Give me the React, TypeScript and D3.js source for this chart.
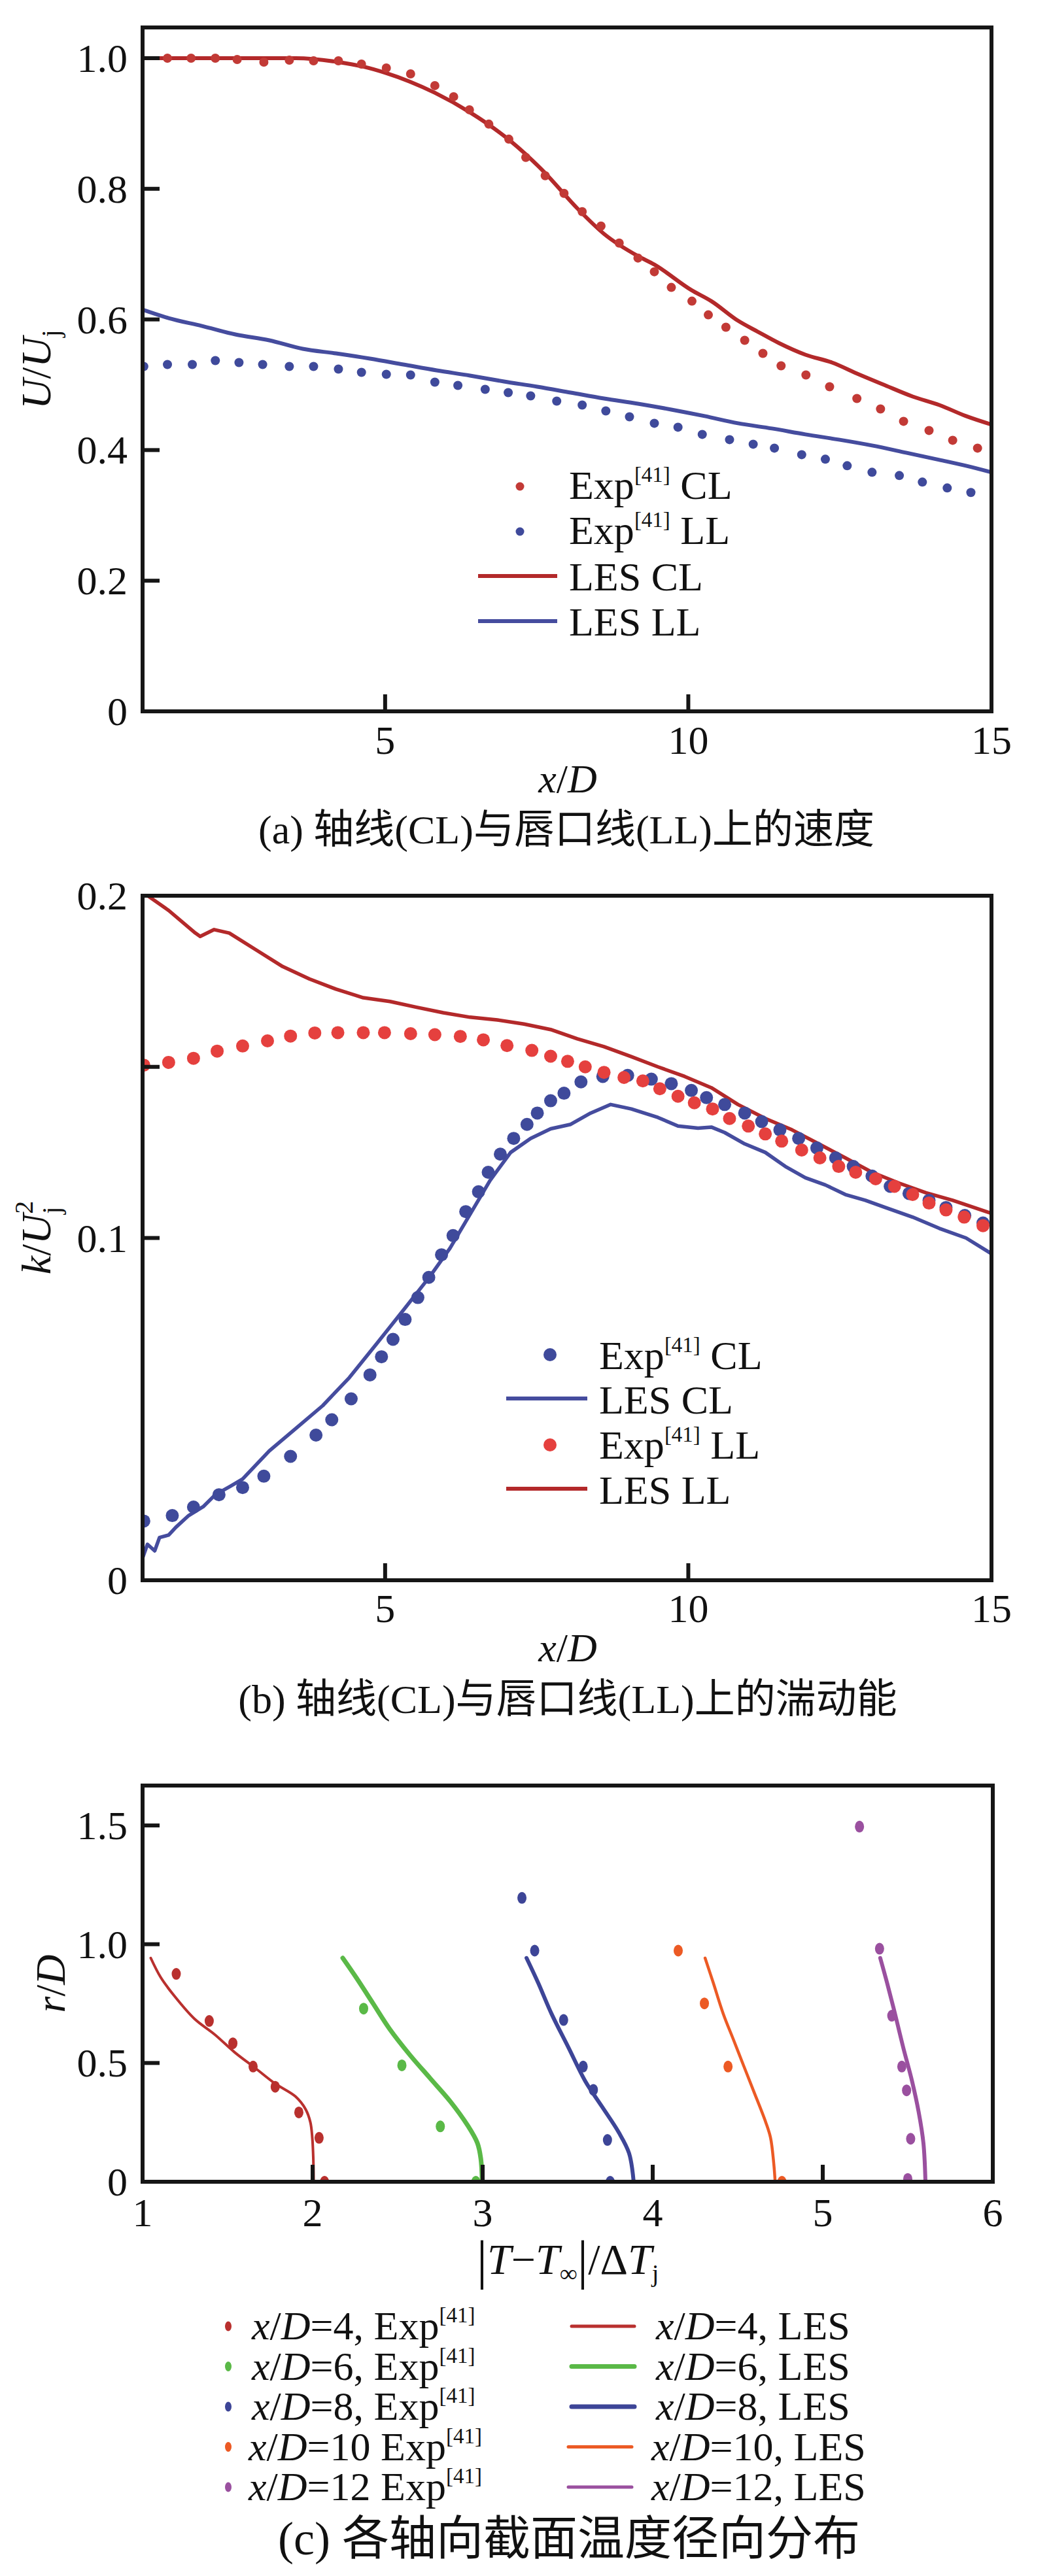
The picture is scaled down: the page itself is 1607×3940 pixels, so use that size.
import * as d3 from 'd3'

// ---------- panel (a): mean velocity along CL and LL ----------
const aExpCLx = [1.41, 1.8, 2.2, 2.56, 3.0, 3.42, 3.82, 4.23, 4.61, 5.02, 5.42, 5.82, 6.13, 6.39, 6.71, 7.04, 7.32, 7.64, 7.95, 8.25, 8.56, 8.86, 9.17, 9.44, 9.72, 10.06, 10.33, 10.62, 10.93, 11.23, 11.53, 11.94, 12.33, 12.78, 13.17, 13.55, 13.97, 14.36, 14.77]
const aExpCLy = [1.0, 1.0, 1.0, 0.998, 0.994, 0.997, 0.996, 0.996, 0.991, 0.985, 0.976, 0.958, 0.941, 0.921, 0.899, 0.876, 0.848, 0.82, 0.793, 0.765, 0.743, 0.717, 0.694, 0.673, 0.649, 0.628, 0.607, 0.588, 0.568, 0.548, 0.529, 0.515, 0.497, 0.479, 0.463, 0.444, 0.43, 0.415, 0.403]
const aExpLLx = [1.02, 1.41, 1.82, 2.2, 2.59, 2.98, 3.42, 3.82, 4.23, 4.61, 5.02, 5.42, 5.82, 6.2, 6.65, 7.03, 7.4, 7.83, 8.25, 8.64, 9.03, 9.44, 9.83, 10.23, 10.68, 11.07, 11.42, 11.87, 12.26, 12.62, 13.03, 13.48, 13.86, 14.27, 14.66]
const aExpLLy = [0.528, 0.531, 0.531, 0.537, 0.534, 0.531, 0.528, 0.528, 0.524, 0.519, 0.516, 0.515, 0.504, 0.499, 0.493, 0.488, 0.483, 0.475, 0.469, 0.46, 0.451, 0.441, 0.435, 0.424, 0.416, 0.409, 0.403, 0.393, 0.386, 0.376, 0.366, 0.361, 0.351, 0.342, 0.335]
const aLesCLx = [1.0, 2.0, 3.0, 3.53, 4.23, 4.64, 5.02, 5.41, 5.82, 6.4, 7.07, 7.62, 8.17, 8.61, 9.17, 9.44, 10.05, 10.38, 10.82, 11.15, 11.49, 11.93, 12.37, 12.81, 13.25, 13.7, 14.14, 14.58, 15.0]
const aLesCLy = [1.0, 1.0, 1.0, 1.0, 0.994, 0.987, 0.977, 0.964, 0.947, 0.917, 0.873, 0.826, 0.77, 0.731, 0.697, 0.684, 0.645, 0.628, 0.598, 0.581, 0.564, 0.546, 0.534, 0.516, 0.499, 0.482, 0.469, 0.452, 0.439]
const aLesLLx = [1.0, 1.43, 1.98, 2.53, 3.09, 3.64, 4.19, 4.75, 5.3, 5.85, 6.4, 6.96, 7.51, 8.06, 8.61, 9.17, 9.72, 10.27, 10.82, 11.38, 11.93, 12.48, 13.03, 13.59, 14.14, 14.58, 15.0]
const aLesLLy = [0.615, 0.602, 0.59, 0.577, 0.568, 0.555, 0.548, 0.54, 0.531, 0.522, 0.514, 0.505, 0.497, 0.488, 0.479, 0.471, 0.462, 0.452, 0.441, 0.433, 0.424, 0.416, 0.407, 0.396, 0.385, 0.376, 0.366]
const aYTicks = [0, 0.2, 0.4, 0.6, 0.8, 1.0]
const aYLabels = ['0', '0.2', '0.4', '0.6', '0.8', '1.0']

// ---------- panel (b): turbulent kinetic energy ----------
const bExpLLx = [1.02, 1.43, 1.84, 2.23, 2.65, 3.06, 3.44, 3.84, 4.22, 4.64, 4.99, 5.42, 5.82, 6.24, 6.62, 7.01, 7.42, 7.73, 8.01, 8.3, 8.61, 8.94, 9.25, 9.53, 9.83, 10.1, 10.4, 10.68, 10.99, 11.27, 11.54, 11.87, 12.17, 12.48, 12.76, 13.09, 13.4, 13.7, 13.97, 14.25, 14.55, 14.86]
const bExpLLy = [0.1505, 0.1513, 0.1525, 0.1546, 0.1561, 0.1576, 0.159, 0.1599, 0.16, 0.16, 0.16, 0.1597, 0.1594, 0.1589, 0.1579, 0.1562, 0.1548, 0.1531, 0.1516, 0.15, 0.1484, 0.1469, 0.1459, 0.1436, 0.1414, 0.1395, 0.1377, 0.1349, 0.1327, 0.1304, 0.1283, 0.1257, 0.1234, 0.1209, 0.1192, 0.1173, 0.1151, 0.1127, 0.1102, 0.1082, 0.1061, 0.1036]
const bExpCLx = [1.02, 1.49, 1.84, 2.26, 2.65, 3.0, 3.44, 3.86, 4.12, 4.44, 4.75, 4.94, 5.13, 5.33, 5.54, 5.72, 5.93, 6.12, 6.33, 6.54, 6.7, 6.9, 7.12, 7.34, 7.51, 7.73, 7.95, 8.23, 8.59, 9.0, 9.39, 9.72, 10.05, 10.3, 10.6, 10.93, 11.21, 11.51, 11.82, 12.12, 12.43, 12.72, 13.03, 13.33, 13.64, 13.97, 14.25, 14.56, 14.86]
const bExpCLy = [0.0173, 0.0189, 0.0214, 0.025, 0.0271, 0.0304, 0.0362, 0.0424, 0.0469, 0.053, 0.06, 0.0653, 0.0704, 0.0762, 0.0826, 0.0885, 0.0951, 0.1007, 0.1077, 0.1135, 0.1192, 0.1245, 0.1291, 0.1332, 0.1365, 0.1401, 0.1423, 0.1456, 0.1472, 0.1475, 0.1464, 0.1451, 0.1431, 0.141, 0.139, 0.1365, 0.134, 0.1316, 0.1291, 0.1263, 0.1234, 0.1209, 0.1181, 0.1151, 0.113, 0.111, 0.1089, 0.1066, 0.1044]
const bLesLLx = [1.0, 1.1, 1.43, 1.87, 1.95, 2.18, 2.43, 2.87, 3.31, 3.75, 4.19, 4.64, 5.08, 5.52, 5.96, 6.4, 6.85, 7.29, 7.73, 8.17, 8.61, 9.06, 9.5, 9.94, 10.38, 10.82, 11.27, 11.71, 12.15, 12.59, 13.03, 13.48, 13.92, 14.36, 15.0]
const bLesLLy = [0.2012, 0.1998, 0.1957, 0.1891, 0.1881, 0.1901, 0.1891, 0.1842, 0.1793, 0.1757, 0.1727, 0.1702, 0.1691, 0.1674, 0.1658, 0.1645, 0.1637, 0.1625, 0.1609, 0.1582, 0.1559, 0.153, 0.15, 0.1472, 0.1439, 0.139, 0.1349, 0.1316, 0.1275, 0.1234, 0.1192, 0.116, 0.1132, 0.111, 0.1072]
const bLesCLx = [1.0, 1.08, 1.2, 1.28, 1.43, 1.55, 1.76, 2.0, 2.2, 2.45, 2.65, 3.09, 3.53, 3.97, 4.41, 4.86, 5.3, 5.74, 6.07, 6.4, 6.73, 7.07, 7.4, 7.73, 8.06, 8.39, 8.72, 9.06, 9.5, 9.83, 10.16, 10.38, 10.6, 10.93, 11.27, 11.6, 11.93, 12.26, 12.59, 12.92, 13.25, 13.7, 14.14, 14.58, 15.0]
const bLesCLy = [0.0065, 0.0105, 0.0086, 0.0125, 0.0132, 0.0155, 0.0189, 0.0215, 0.025, 0.0275, 0.0296, 0.0378, 0.0444, 0.051, 0.0592, 0.0691, 0.0789, 0.0888, 0.097, 0.1069, 0.1168, 0.125, 0.1291, 0.1319, 0.1332, 0.1365, 0.139, 0.1377, 0.1352, 0.1327, 0.1321, 0.1324, 0.1308, 0.1275, 0.125, 0.1209, 0.1176, 0.1155, 0.1127, 0.111, 0.1089, 0.1061, 0.1028, 0.1, 0.0954]
const bYTicks = [0, 0.1, 0.2]
const bYLabels = ['0', '0.1', '0.2']
const bYMinor = [0.15]

const abXTicks = [5, 10, 15]
const abXLabels = ['5', '10', '15']

// ---------- panel (c): radial temperature profiles ----------
const cStations = ['4', '6', '8', '10', '12']
const cColors = ['#b9302e', '#5ab947', '#3d4597', '#ec5a24', '#9a509f']
const cLineWidths = [4, 7, 6, 4.5, 6]
const cExpT = [
  [1.198, 1.392, 1.531, 1.65, 1.78, 1.919, 2.038, 2.07],
  [2.3, 2.525, 2.751, 2.96],
  [3.231, 3.306, 3.476, 3.591, 3.651, 3.734, 3.75],
  [4.15, 4.304, 4.443, 4.76],
  [5.216, 5.334, 5.406, 5.465, 5.493, 5.517, 5.5],
]
const cExpR = [
  [0.875, 0.677, 0.583, 0.485, 0.4, 0.292, 0.185, 0.0],
  [0.729, 0.49, 0.233, 0.0],
  [1.195, 0.973, 0.681, 0.485, 0.387, 0.176, 0.0],
  [0.973, 0.751, 0.485, 0.0],
  [1.495, 0.981, 0.699, 0.485, 0.385, 0.181, 0.012],
]
const cLesT = [
  [1.048, 1.107, 1.186, 1.305, 1.424, 1.543, 1.662, 1.78, 1.899, 1.959, 1.987, 1.998, 2.004, 2.006],
  [2.177, 2.256, 2.355, 2.454, 2.573, 2.692, 2.811, 2.91, 2.969, 2.989, 2.997],
  [3.258, 3.326, 3.405, 3.504, 3.603, 3.702, 3.801, 3.861, 3.888],
  [4.308, 4.356, 4.415, 4.475, 4.534, 4.594, 4.665, 4.693, 4.712, 4.72],
  [5.338, 5.378, 5.425, 5.473, 5.525, 5.564, 5.592, 5.604],
]
const cLesR = [
  [0.942, 0.86, 0.783, 0.686, 0.62, 0.544, 0.479, 0.413, 0.359, 0.305, 0.25, 0.185, 0.098, 0.0],
  [0.942, 0.86, 0.751, 0.642, 0.533, 0.435, 0.337, 0.239, 0.163, 0.098, 0.0],
  [0.942, 0.838, 0.707, 0.566, 0.424, 0.316, 0.207, 0.12, 0.0],
  [0.942, 0.838, 0.707, 0.598, 0.49, 0.381, 0.25, 0.185, 0.076, 0.0],
  [0.942, 0.838, 0.707, 0.566, 0.424, 0.294, 0.163, 0.0],
]
const cXTicks = [1, 2, 3, 4, 5, 6]
const cYTicks = [0, 0.5, 1.0, 1.5]
const cYLabels = ['0', '0.5', '1.0', '1.5']

// colours
const redDot = '#c23a36'
const redLine = '#b3292a'
const blueDot = '#3f4a9b'
const blueLine = '#454c9e'
const redDotB = '#e5403e'

const SERIF = "'Liberation Serif', 'Times New Roman', serif"
const MIXED = "'Liberation Serif', 'Noto Sans CJK SC', serif"
const FS = 62
const SUP = 33

const zip = (xs: number[], ys: number[]) => xs.map((x, i) => [x, ys[i]] as [number, number])

function T({ x, y, anchor = 'start', size = FS, family = SERIF, children }: any) {
  return (
    <text x={x} y={y} textAnchor={anchor} fontSize={size} fontFamily={family} fill="#111">
      {children}
    </text>
  )
}

function Clip({ x, y, id }: any) {
  const [x0, x1] = x.range()
  const [y0, y1] = y.range()
  return (
    <clipPath id={id}>
      <rect x={x0} y={y1} width={x1 - x0} height={y0 - y1} />
    </clipPath>
  )
}

function Box({ x, y, xTicks, yTicks }: any) {
  const [x0, x1] = x.range()
  const [y0, y1] = y.range()
  const tick = 26
  return (
    <g stroke="#161616" strokeWidth={6} fill="none">
      {xTicks.map((t: number) => (
        <line key={'x' + t} x1={x(t)} x2={x(t)} y1={y0} y2={y0 - tick} />
      ))}
      {yTicks.map((t: number) => (
        <line key={'y' + t} x1={x0} x2={x0 + tick} y1={y(t)} y2={y(t)} />
      ))}
      <rect x={x0} y={y1} width={x1 - x0} height={y0 - y1} />
    </g>
  )
}

const Exp41 = ({ tail }: { tail: string }) => (
  <>
    Exp<tspan fontSize={SUP} dy={-26}>[41]</tspan>
    <tspan dy={26}>{tail}</tspan>
  </>
)

function PanelA() {
  const x = d3.scaleLinear().domain([1, 15]).range([218, 1516])
  const y = d3.scaleLinear().domain([0, 1.047]).range([1088, 42])
  const line = d3
    .line<[number, number]>()
    .x((d) => x(d[0]))
    .y((d) => y(d[1]))
    .curve(d3.curveMonotoneX)
  return (
    <g>
      <Clip x={x} y={y} id="clipA" />
      <g clipPath="url(#clipA)">
        <path d={line(zip(aLesLLx, aLesLLy)) || ''} fill="none" stroke={blueLine} strokeWidth={6} />
        <path d={line(zip(aLesCLx, aLesCLy)) || ''} fill="none" stroke={redLine} strokeWidth={6} />
        {zip(aExpLLx, aExpLLy).map((d, i) => (
          <circle key={'l' + i} cx={x(d[0])} cy={y(d[1])} r={7} fill={blueDot} />
        ))}
        {zip(aExpCLx, aExpCLy).map((d, i) => (
          <circle key={'c' + i} cx={x(d[0])} cy={y(d[1])} r={7} fill={redDot} />
        ))}
      </g>
      <Box x={x} y={y} xTicks={abXTicks.slice(0, 2)} yTicks={aYTicks.slice(1)} />
      {aYTicks.map((t, i) => (
        <T key={t} x={195} y={y(t) + 21} anchor="end">{aYLabels[i]}</T>
      ))}
      {abXTicks.map((t, i) => (
        <T key={t} x={x(t)} y={1153} anchor="middle">{abXLabels[i]}</T>
      ))}
      <T x={868} y={1212} anchor="middle"><tspan fontStyle="italic">x</tspan>/<tspan fontStyle="italic">D</tspan></T>
      <T x={866} y={1290} anchor="middle" family={MIXED} size={62}>(a) 轴线(CL)与唇口线(LL)上的速度</T>
      <g transform="translate(77,565) rotate(-90)">
        <text textAnchor="middle" fontSize={64} fontFamily={SERIF} fill="#111">
          <tspan fontStyle="italic">U</tspan>/<tspan fontStyle="italic">U</tspan>
          <tspan fontSize={40} dy={14}>j</tspan>
        </text>
      </g>
      {/* legend */}
      <circle cx={795} cy={744} r={6.5} fill={redDot} />
      <T x={870} y={763}><Exp41 tail=" CL" /></T>
      <circle cx={795} cy={813} r={6.5} fill={blueDot} />
      <T x={870} y={832}><Exp41 tail=" LL" /></T>
      <line x1={731} x2={852} y1={881} y2={881} stroke={redLine} strokeWidth={6} />
      <T x={870} y={903}>LES CL</T>
      <line x1={731} x2={852} y1={950} y2={950} stroke={blueLine} strokeWidth={6} />
      <T x={870} y={972}>LES LL</T>
    </g>
  )
}

function PanelB() {
  const x = d3.scaleLinear().domain([1, 15]).range([218, 1516])
  const y = d3.scaleLinear().domain([0, 0.2]).range([2417, 1370])
  const line = d3
    .line<[number, number]>()
    .x((d) => x(d[0]))
    .y((d) => y(d[1]))
  return (
    <g>
      <Clip x={x} y={y} id="clipB" />
      <g clipPath="url(#clipB)">
        <path d={line(zip(bLesLLx, bLesLLy)) || ''} fill="none" stroke={redLine} strokeWidth={5.5} strokeLinejoin="round" />
        <path d={line(zip(bLesCLx, bLesCLy)) || ''} fill="none" stroke={blueLine} strokeWidth={5.5} strokeLinejoin="round" />
        {zip(bExpCLx, bExpCLy).map((d, i) => (
          <circle key={'c' + i} cx={x(d[0])} cy={y(d[1])} r={10} fill={blueDot} />
        ))}
        {zip(bExpLLx, bExpLLy).map((d, i) => (
          <circle key={'l' + i} cx={x(d[0])} cy={y(d[1])} r={10} fill={redDotB} />
        ))}
      </g>
      <Box x={x} y={y} xTicks={abXTicks.slice(0, 2)} yTicks={[bYTicks[1], ...bYMinor]} />
      {bYTicks.map((t, i) => (
        <T key={t} x={195} y={y(t) + 21} anchor="end">{bYLabels[i]}</T>
      ))}
      {abXTicks.map((t, i) => (
        <T key={t} x={x(t)} y={2481} anchor="middle">{abXLabels[i]}</T>
      ))}
      <T x={868} y={2541} anchor="middle"><tspan fontStyle="italic">x</tspan>/<tspan fontStyle="italic">D</tspan></T>
      <T x={868} y={2620} anchor="middle" family={MIXED} size={62}>(b) 轴线(CL)与唇口线(LL)上的湍动能</T>
      <g transform="translate(77,1893) rotate(-90)">
        <text textAnchor="middle" fontSize={64} fontFamily={SERIF} fill="#111">
          <tspan fontStyle="italic">k</tspan>/<tspan fontStyle="italic">U</tspan>
          <tspan fontSize={40} dy={-27}>2</tspan>
          <tspan fontSize={40} dx={-20} dy={42}>j</tspan>
        </text>
      </g>
      {/* legend */}
      <circle cx={841} cy={2072} r={10} fill={blueDot} />
      <T x={916} y={2094}><Exp41 tail=" CL" /></T>
      <line x1={774} x2={898} y1={2139} y2={2139} stroke={blueLine} strokeWidth={6} />
      <T x={916} y={2162}>LES CL</T>
      <circle cx={841} cy={2210} r={10} fill={redDotB} />
      <T x={916} y={2231}><Exp41 tail=" LL" /></T>
      <line x1={774} x2={898} y1={2277} y2={2277} stroke={redLine} strokeWidth={6} />
      <T x={916} y={2300}>LES LL</T>
    </g>
  )
}

function PanelC() {
  const x = d3.scaleLinear().domain([1, 6]).range([218, 1518])
  const y = d3.scaleLinear().domain([0, 1.668]).range([3337, 2731])
  const line = d3
    .line<[number, number]>()
    .x((d) => x(d[0]))
    .y((d) => y(d[1]))
    .curve(d3.curveCatmullRom.alpha(0.5))
  const rowY = (i: number) => 3578 + i * 61.5
  return (
    <g>
      <Clip x={x} y={y} id="clipC" />
      <g clipPath="url(#clipC)">
        {cStations.map((s, k) =>
          zip(cExpT[k], cExpR[k]).map((d, i) => (
            <ellipse key={s + 'e' + i} cx={x(d[0])} cy={y(d[1])} rx={7} ry={9} fill={cColors[k]} />
          ))
        )}
        {cStations.map((s, k) => (
          <path
            key={s + 'l'}
            d={line(zip(cLesT[k], cLesR[k])) || ''}
            fill="none"
            stroke={cColors[k]}
            strokeWidth={cLineWidths[k]}
            strokeLinecap="round"
          />
        ))}
      </g>
      <Box x={x} y={y} xTicks={cXTicks.slice(1, 5)} yTicks={cYTicks.slice(1)} />
      {cYTicks.map((t, i) => (
        <T key={t} x={195} y={y(t) + 21} anchor="end">{cYLabels[i]}</T>
      ))}
      {cXTicks.map((t) => (
        <T key={t} x={x(t)} y={3405} anchor="middle">{String(t)}</T>
      ))}
      <T x={868} y={3478} anchor="middle" size={66}>
        <tspan fontSize={82} dy={6}>|</tspan>
        <tspan fontStyle="italic" dy={-6}>T</tspan>−<tspan fontStyle="italic">T</tspan>
        <tspan fontSize={38} dy={12}>∞</tspan>
        <tspan fontSize={82} dy={-6}>|</tspan>
        <tspan dy={-6}>/Δ</tspan>
        <tspan fontStyle="italic">T</tspan>
        <tspan fontSize={38} dy={12}>j</tspan>
      </T>
      <T x={870} y={3907} anchor="middle" family={MIXED} size={72}>(c) 各轴向截面温度径向分布</T>
      <g transform="translate(99,3034) rotate(-90)">
        <text textAnchor="middle" fontSize={64} fontFamily={SERIF} fill="#111">
          <tspan fontStyle="italic">r</tspan>/<tspan fontStyle="italic">D</tspan>
        </text>
      </g>
      {/* legend */}
      {cStations.map((s, k) => (
        <g key={s + 'leg'}>
          <ellipse cx={349} cy={rowY(k) - 20} rx={5} ry={7.5} fill={cColors[k]} />
          <T x={k < 3 ? 385 : 380} y={rowY(k)}>
            <tspan fontStyle="italic">x</tspan>/<tspan fontStyle="italic">D</tspan>={s}
            {k < 3 ? ', ' : ' '}Exp<tspan fontSize={SUP} dy={-26}>[41]</tspan>
          </T>
          <line
            x1={k < 3 ? 874 : 869}
            x2={k < 3 ? 970 : 966}
            y1={rowY(k) - 20}
            y2={rowY(k) - 20}
            stroke={cColors[k]}
            strokeWidth={k === 1 || k === 2 ? 7 : 5}
            strokeLinecap="round"
          />
          <T x={k < 3 ? 1003 : 996} y={rowY(k)}>
            <tspan fontStyle="italic">x</tspan>/<tspan fontStyle="italic">D</tspan>={s}, LES
          </T>
        </g>
      ))}
    </g>
  )
}

export default function App() {
  return (
    <svg
      width={1607}
      height={3940}
      viewBox="0 0 1607 3940"
      style={{ position: 'absolute', left: 0, top: 0, background: '#fff' }}
    >
      <rect width={1607} height={3940} fill="#fff" />
      <PanelA />
      <PanelB />
      <PanelC />
    </svg>
  )
}
